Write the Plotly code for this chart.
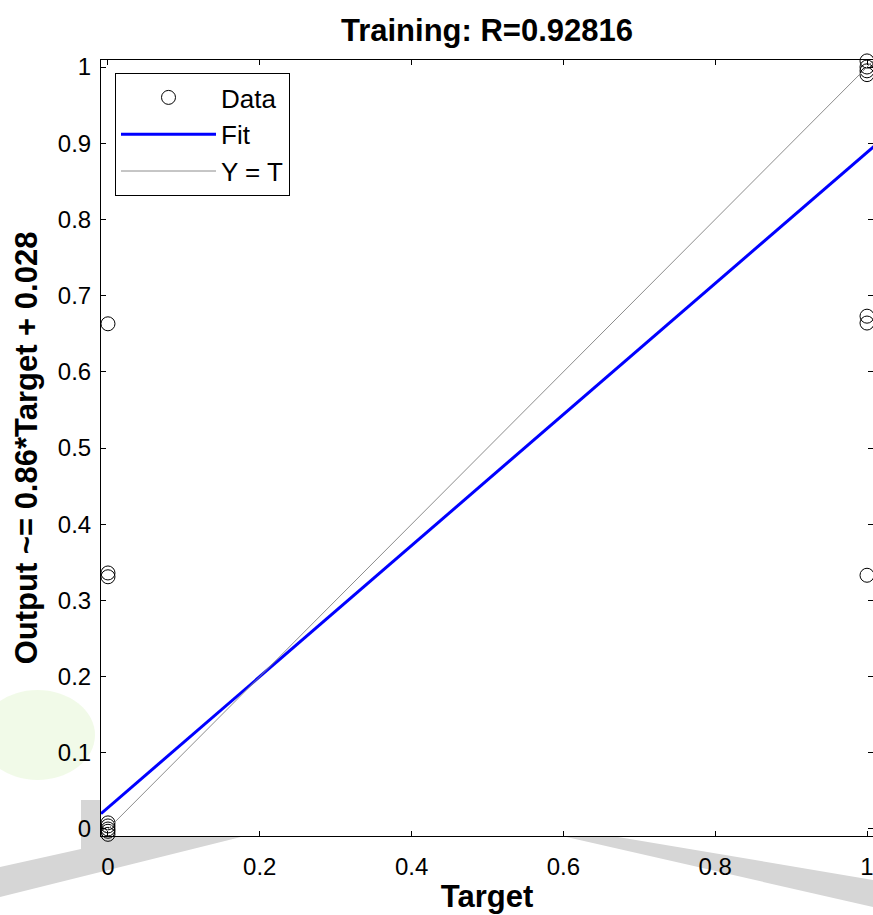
import plotly.graph_objects as go

# ---- data ----
target_zero = [0, 0, 0, 0, 0, 0, 0, 0]
output_zero = [0.008, 0.004, 0.0, -0.003, -0.007, 0.663, 0.336, 0.331]
target_one = [1, 1, 1, 1, 1, 1, 1]
output_one = [1.008, 1.0, 0.995, 0.99, 0.673, 0.664, 0.333]
fit_slope = 0.86
fit_intercept = 0.028
axis_limits = [-0.0092, 1.0092]
x_view_max = 1.0079
x_tickvals = [0, 0.2, 0.4, 0.6, 0.8, 1]
x_ticktext = ["0", "0.2", "0.4", "0.6", "0.8", "1"]
y_tickvals = [0, 0.1, 0.2, 0.3, 0.4, 0.5, 0.6, 0.7, 0.8, 0.9, 1]
y_ticktext = ["0", "0.1", "0.2", "0.3", "0.4", "0.5", "0.6", "0.7", "0.8", "0.9", "1"]

W, H = 873, 915
ML, MR, MT, MB = 101, 0, 60, 79
PW, PH = W - ML - MR, H - MT - MB
FONT = "Liberation Sans, Arial, sans-serif"

def px(x):
    return (x - ML) / PW

def py(y):
    return (H - MB - y) / PH

fig = go.Figure()

data_x = target_zero + target_one
data_y = output_zero + output_one
fig.add_trace(go.Scatter(
    x=data_x, y=data_y, mode="markers", name="Data", legendgroup="a",
    marker=dict(symbol="circle-open", size=14, color="black", line=dict(width=1, color="black")),
    cliponaxis=False,
))
fit_y = [fit_slope * v + fit_intercept for v in axis_limits]
fig.add_trace(go.Scatter(
    x=axis_limits, y=fit_y, mode="lines", name="Fit", legendgroup="b",
    line=dict(color="#0000ff", width=3),
))
fig.add_trace(go.Scatter(
    x=axis_limits, y=axis_limits, mode="lines", name="Y = T", legendgroup="c",
    line=dict(color="#8c8c8c", width=1),
))

# faint watermark shapes outside the plot area
def path(points):
    return "M " + " L ".join(f"{px(a):.4f},{py(b):.4f}" for a, b in points) + " Z"

shapes = [
    dict(type="path", xref="paper", yref="paper", layer="below", line=dict(width=0),
         fillcolor="#d6d6d6",
         path=path([(0, 867), (81, 849), (81, 800), (101, 800), (101, 836), (245, 836), (0, 897)])),
    dict(type="path", xref="paper", yref="paper", layer="below", line=dict(width=0),
         fillcolor="#d6d6d6",
         path=path([(562, 836), (612, 836), (873, 880), (873, 907)])),
    dict(type="circle", xref="paper", yref="paper", layer="below", line=dict(width=0),
         fillcolor="rgba(215,240,190,0.35)",
         x0=px(-20), x1=px(95), y0=py(780), y1=py(690)),
]

fig.update_layout(
    width=W, height=H,
    margin=dict(l=ML, r=MR, t=MT, b=MB),
    paper_bgcolor="white", plot_bgcolor="white",
    font=dict(family=FONT, size=24, color="black"),
    shapes=shapes,
    title=dict(text="<b>Training: R=0.92816</b>", x=0.5, xref="paper", xanchor="center",
               y=1 - 30 / H, yanchor="middle", font=dict(size=31, family=FONT)),
    showlegend=True,
    legend=dict(x=px(115), y=py(73), xanchor="left", yanchor="top",
                bordercolor="black", borderwidth=1, bgcolor="white",
                font=dict(size=26, family=FONT), tracegroupgap=0,
                traceorder="grouped", itemwidth=95),
)
fig.update_xaxes(
    range=[axis_limits[0], x_view_max],
    tickvals=x_tickvals, ticktext=x_ticktext, ticklabeloverflow="allow",
    ticks="inside", ticklen=5, tickcolor="black", tickwidth=1,
    showline=True, linecolor="black", linewidth=1, mirror="ticks",
    showgrid=False, zeroline=False, ticklabelstandoff=9,
    title=dict(text="<b>Target</b>", font=dict(size=31, family=FONT), standoff=6),
)
fig.update_yaxes(
    range=axis_limits,
    tickvals=y_tickvals, ticktext=y_ticktext,
    ticks="inside", ticklen=5, tickcolor="black", tickwidth=1,
    showline=True, linecolor="black", linewidth=1, mirror="ticks",
    showgrid=False, zeroline=False, ticklabelstandoff=4,
    title=dict(text="<b>Output ~= 0.86*Target + 0.028</b>", font=dict(size=31, family=FONT), standoff=10),
)

fig.write_html("out.html")
